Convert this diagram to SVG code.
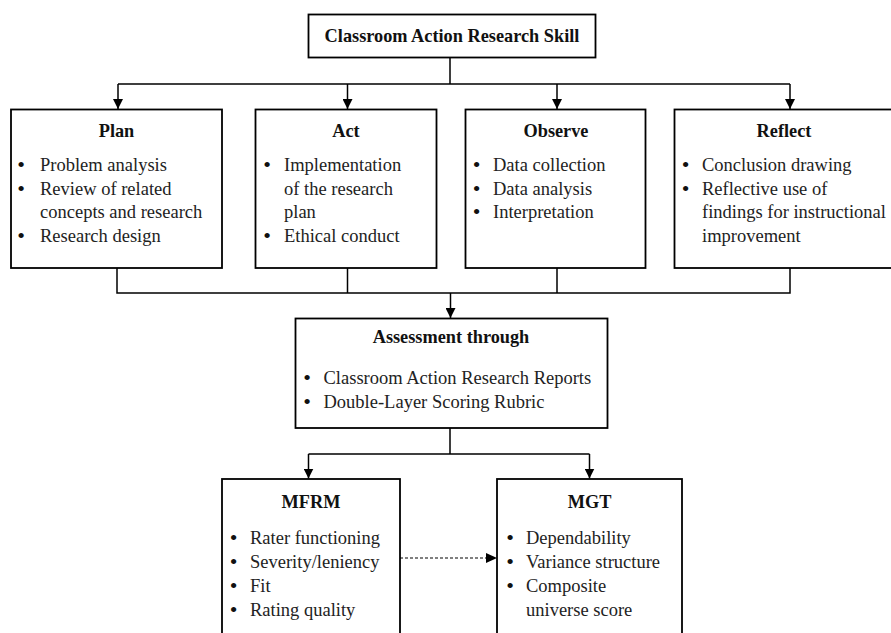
<svg xmlns="http://www.w3.org/2000/svg" width="891" height="633" viewBox="0 0 891 633">
<defs>
<marker id="ah" viewBox="0 0 10 10" refX="10" refY="5" markerWidth="10" markerHeight="10" markerUnits="userSpaceOnUse" orient="auto">
<path d="M0,0 L10,5 L0,10 Z" fill="#000"/>
</marker>
<style>
.box{fill:#fff;stroke:#000;stroke-width:1.8}
.ln{fill:none;stroke:#000;stroke-width:1.5}
.dash{fill:none;stroke:#000;stroke-width:1;stroke-dasharray:3,2}
.t{font-family:"Liberation Serif","Times New Roman",serif;font-size:18.5px;fill:#222}
.h{font-family:"Liberation Serif","Times New Roman",serif;font-size:18.3px;font-weight:bold;fill:#111;text-anchor:middle}
.b{font-family:"Liberation Serif","Times New Roman",serif;font-size:22px;fill:#111;text-anchor:middle}
</style>
</defs>
<rect width="891" height="633" fill="#fff"/>
<g id="connectors">
<path class="ln" d="M450,57 V84 M118,84 H790"/>
<path class="ln" d="M118,84 V109" marker-end="url(#ah)"/>
<path class="ln" d="M347.5,84 V109" marker-end="url(#ah)"/>
<path class="ln" d="M557,84 V109" marker-end="url(#ah)"/>
<path class="ln" d="M790,84 V109" marker-end="url(#ah)"/>
<path class="ln" d="M117,268 V293 H790 V268 M347.5,268 V293 M557,268 V293"/>
<path class="ln" d="M450.5,293 V318" marker-end="url(#ah)"/>
<path class="ln" d="M450,428 V454 M308.5,454 H589.5"/>
<path class="ln" d="M308.5,454 V478.5" marker-end="url(#ah)"/>
<path class="ln" d="M589.5,454 V478.5" marker-end="url(#ah)"/>
<path class="dash" d="M400,558 H486"/>
<path d="M486,553 L497,558 L486,563 Z" fill="#000"/>
</g>
<g id="top">
<rect class="box" x="308.5" y="14.5" width="287" height="43"/>
<text class="h" x="452" y="41.5">Classroom Action Research Skill</text>
</g>
<g id="plan">
<rect class="box" x="11" y="109.5" width="211" height="158.5"/>
<text class="h" x="116.5" y="137">Plan</text>
<text class="b" x="21" y="172">•</text><text class="t" x="40" y="171">Problem analysis</text>
<text class="b" x="21" y="196">•</text><text class="t" x="40" y="195">Review of related</text>
<text class="t" x="40" y="218">concepts and research</text>
<text class="b" x="21" y="243">•</text><text class="t" x="40" y="242">Research design</text>
</g>
<g id="act">
<rect class="box" x="255.5" y="109.5" width="181" height="158.5"/>
<text class="h" x="346" y="137">Act</text>
<text class="b" x="267" y="172">•</text><text class="t" x="284" y="171">Implementation</text>
<text class="t" x="284" y="195">of the research</text>
<text class="t" x="284" y="218">plan</text>
<text class="b" x="267" y="243">•</text><text class="t" x="284" y="242">Ethical conduct</text>
</g>
<g id="observe">
<rect class="box" x="465.5" y="109.5" width="180" height="158.5"/>
<text class="h" x="556" y="137">Observe</text>
<text class="b" x="476.5" y="172">•</text><text class="t" x="493" y="171">Data collection</text>
<text class="b" x="476.5" y="196">•</text><text class="t" x="493" y="195">Data analysis</text>
<text class="b" x="476.5" y="219">•</text><text class="t" x="493" y="218">Interpretation</text>
</g>
<g id="reflect">
<rect class="box" x="674.5" y="109.5" width="220" height="158.5"/>
<text class="h" x="784" y="137">Reflect</text>
<text class="b" x="685.5" y="172">•</text><text class="t" x="702" y="171">Conclusion drawing</text>
<text class="b" x="685.5" y="196">•</text><text class="t" x="702" y="195">Reflective use of</text>
<text class="t" x="702" y="218">findings for instructional</text>
<text class="t" x="702" y="242">improvement</text>
</g>
<g id="assessment">
<rect class="box" x="295.5" y="318.5" width="312" height="109.5"/>
<text class="h" x="451" y="343">Assessment through</text>
<text class="b" x="307" y="385">•</text><text class="t" x="323.5" y="384">Classroom Action Research Reports</text>
<text class="b" x="307" y="409">•</text><text class="t" x="323.5" y="408">Double-Layer Scoring Rubric</text>
</g>
<g id="mfrm">
<rect class="box" x="222" y="479" width="178" height="170"/>
<text class="h" x="311" y="508">MFRM</text>
<text class="b" x="233.5" y="545">•</text><text class="t" x="250" y="544">Rater functioning</text>
<text class="b" x="233.5" y="569">•</text><text class="t" x="250" y="568">Severity/leniency</text>
<text class="b" x="233.5" y="593">•</text><text class="t" x="250" y="592">Fit</text>
<text class="b" x="233.5" y="617">•</text><text class="t" x="250" y="616">Rating quality</text>
</g>
<g id="mgt">
<rect class="box" x="497" y="479" width="185" height="170"/>
<text class="h" x="589.5" y="508">MGT</text>
<text class="b" x="510" y="545">•</text><text class="t" x="526" y="544">Dependability</text>
<text class="b" x="510" y="569">•</text><text class="t" x="526" y="568">Variance structure</text>
<text class="b" x="510" y="593">•</text><text class="t" x="526" y="592">Composite</text>
<text class="t" x="526" y="616">universe score</text>
</g>
</svg>
